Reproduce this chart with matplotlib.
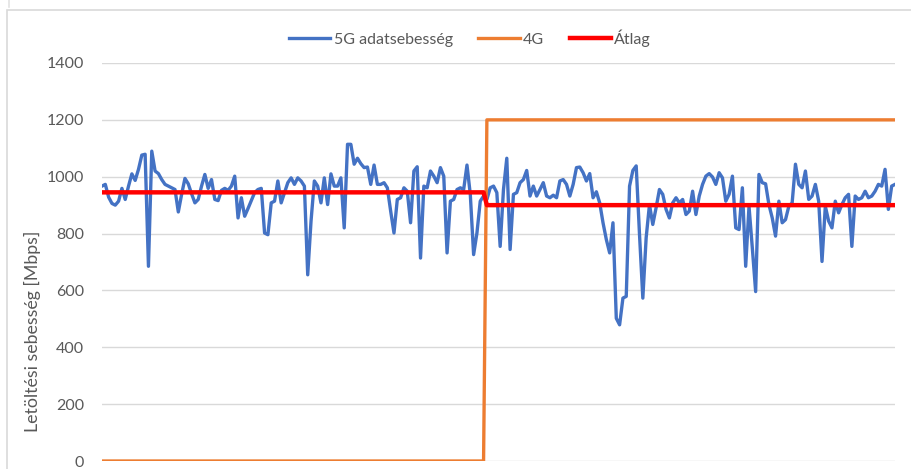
import matplotlib.pyplot as plt
from matplotlib.patches import Rectangle
from matplotlib.lines import Line2D

# 5G download speed samples [Mbps] left to right
speed_5g = [
    967, 973, 928, 906, 900, 914, 959, 920, 967, 1010, 987, 1026, 1076, 1079, 685, 1090,
    1020, 1011, 990, 973, 967, 961, 955, 876, 938, 994, 975, 940, 908, 920, 967, 1008,
    959, 990, 920, 916, 952, 959, 952, 967, 1002, 855, 926, 861, 888, 916, 944, 955,
    959, 802, 796, 908, 914, 985, 908, 944, 979, 996, 973, 996, 985, 967, 655, 844,
    985, 967, 908, 996, 902, 1010, 967, 967, 996, 820, 1114, 1114, 1044, 1065, 1046, 1032,
    1034, 973, 1041, 973, 973, 979, 961, 879, 802, 920, 926, 961, 949, 838, 1020, 1035,
    714, 967, 961, 1020, 1002, 979, 1032, 1002, 732, 914, 920, 955, 961, 955, 1041, 938,
    726, 802, 914, 932, 920, 961, 967, 944, 755, 955, 1065, 744, 938, 944, 979, 990,
    1022, 932, 967, 932, 955, 979, 932, 926, 935, 926, 985, 990, 973, 932, 973,
    1032, 1034, 1014, 985, 1011, 926, 947, 908, 838, 779, 732, 838, 502, 479, 573, 579,
    967, 1022, 1038, 796, 573, 785, 902, 832, 891, 955, 938, 885, 855, 908, 926, 908,
    920, 867, 879, 949, 867, 932, 973, 1002, 1011, 999, 973, 1014, 996, 914, 938, 1002, 820,
    814, 961, 685, 896, 749, 596, 1008, 979, 975, 902, 855, 791, 914, 838, 849, 896,
    908, 1044, 973, 961, 1020, 920, 932, 973, 914, 702, 896, 844, 820, 914, 873, 902,
    926, 938, 755, 932, 920, 926, 949, 926, 932, 949, 973, 967, 1026, 885, 967, 973,
]

# samples measured before the switch to 4G
n_before = 116
speed_4g_levels = [0, 1200]
average_levels = [945, 900]

n = len(speed_5g)
x = list(range(n))
speed_4g = [speed_4g_levels[0]] * n_before + [speed_4g_levels[1]] * (n - n_before)
average = [average_levels[0]] * n_before + [average_levels[1]] * (n - n_before)

y_ticks = [0, 200, 400, 600, 800, 1000, 1200, 1400]

plt.rcParams['font.family'] = ['Lato', 'DejaVu Sans']

fig = plt.figure(figsize=(9.11, 4.69), dpi=100)
W, H = 911, 469

# chart area border
fig.patches.append(Rectangle((7 / W, -0.1), 1.1, 1 - 10 / H + 0.1, transform=fig.transFigure,
                             fill=False, edgecolor='#d9d9d9', linewidth=1.2))
fig.lines.append(Line2D([8.5 / W, 8.5 / W], [1, 1 - 7 / H], transform=fig.transFigure,
                        color='#e3e3e3', linewidth=1.2))

ax = fig.add_axes([102 / W, 8 / H, (895 - 102) / W, (461 - 63) / H])

ax.plot(x, speed_5g, color='#4472C4', linewidth=2.4, label='5G adatsebesség', zorder=3)
ax.plot(x, speed_4g, color='#ED7D31', linewidth=2.4, label='4G', zorder=4)
ax.plot(x, average, color='#FF0000', linewidth=3.2, label='Átlag', zorder=5)

ax.set_xlim(0, n - 1)
ax.set_ylim(0, 1400)
ax.set_yticks(y_ticks)
ax.set_xticks([])
ax.tick_params(axis='y', length=0, pad=13, labelsize=11.5, labelcolor='#595959')
ax.grid(axis='y', color='#d9d9d9', linewidth=1.0, zorder=0)
ax.set_axisbelow(True)
for side in ax.spines.values():
    side.set_visible(False)

fig.text(32 / W, 1 - 331 / H, 'Letöltési sebesség [Mbps]', rotation=90,
         ha='center', va='center', fontsize=12.8, color='#595959')

fig.legend(loc='center', bbox_to_anchor=(470 / W, 1 - 38 / H), ncol=3, frameon=False,
           fontsize=11.5, labelcolor='#595959', handlelength=2.6, handletextpad=0.2,
           columnspacing=1.6)

fig.savefig('out.png', dpi=100)
